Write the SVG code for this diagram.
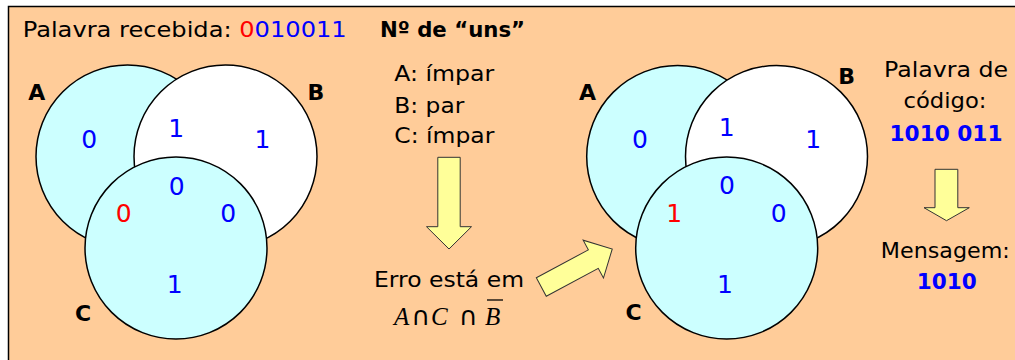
<svg xmlns="http://www.w3.org/2000/svg" width="1015" height="360" viewBox="0 0 1015 360">
<style>
  .t { font-family: "DejaVu Sans", Verdana, sans-serif; font-size: 22px; fill: #000; }
  .title { font-size: 21px; }
  .b { font-weight: bold; }
  .blue { fill: #0000FF; }
  .lbl { font-family: "DejaVu Sans", Verdana, sans-serif; font-size: 22px; font-weight: bold; text-anchor: middle; fill: #000; }
  .dig { font-family: "DejaVu Sans", Verdana, sans-serif; font-size: 25px; text-anchor: middle; fill: #0000FF; }
  .red, .dig.red { fill: #FF0000; }
  .cy { fill: #CCFFFF; stroke: #000; stroke-width: 1.5; }
  .wh { fill: #FFFFFF; stroke: #000; stroke-width: 1.5; }
  .arrow { fill: #FFFF99; stroke: #333; stroke-width: 1; }
  .mi { font-family: "Liberation Serif", "Times New Roman", serif; font-style: italic; font-size: 25px; fill: #000; }
  .op { font-family: "DejaVu Sans", "Liberation Serif", sans-serif; font-style: normal; font-size: 26px; text-anchor: middle; }
</style>
<rect x="8.5" y="6.5" width="1020" height="360" fill="#FFCC99" stroke="#000" stroke-width="1.5"/>

<g id="title">
  <text class="t title" x="22.7" y="37.3" textLength="324" lengthAdjust="spacingAndGlyphs">Palavra recebida: <tspan class="red">0</tspan><tspan class="blue">010011</tspan></text>
</g>
<g id="heading-uns">
  <text class="t title b" x="380" y="37.3" textLength="145" lengthAdjust="spacingAndGlyphs">Nº de “uns”</text>
</g>

<g id="venn-received">
  <g id="r-A">
    <circle class="cy" cx="127.5" cy="156.5" r="91.5"/>
    <text class="lbl" x="36.8" y="100">A</text>
  </g>
  <g id="r-B">
    <circle class="wh" cx="225.5" cy="156.5" r="91.5"/>
    <text class="lbl" x="315.8" y="100">B</text>
  </g>
  <g id="r-C">
    <circle class="cy" cx="176" cy="248" r="91"/>
    <text class="lbl" x="83" y="320.5">C</text>
  </g>
  <g id="r-bits">
    <text class="dig" x="89.2" y="148.3">0</text>
    <text class="dig" x="176.3" y="136.7">1</text>
    <text class="dig" x="262.5" y="148.3">1</text>
    <text class="dig" x="176.7" y="195">0</text>
    <text class="dig red" x="123.7" y="222.3">0</text>
    <text class="dig" x="228.3" y="222.3">0</text>
    <text class="dig" x="174.7" y="292.7">1</text>
  </g>
</g>

<g id="parity">
  <text class="t" x="394.3" y="80.7" textLength="100" lengthAdjust="spacingAndGlyphs">A: ímpar</text>
  <text class="t" x="394.3" y="112.7" textLength="70" lengthAdjust="spacingAndGlyphs">B: par</text>
  <text class="t" x="394.3" y="143.3" textLength="100" lengthAdjust="spacingAndGlyphs">C: ímpar</text>
</g>

<g id="error-location">
  <text class="t" x="374" y="287.3" textLength="150" lengthAdjust="spacingAndGlyphs">Erro está em</text>
  <text class="mi" x="394" y="324.5">A</text>
  <text class="mi op" x="421" y="324.5">∩</text>
  <text class="mi" x="431" y="324.5">C</text>
  <text class="mi op" x="468.5" y="324.5">∩</text>
  <text class="mi" x="485" y="324.5">B</text>
  <line x1="487" y1="300" x2="503" y2="300" stroke="#000" stroke-width="1.3"/>
</g>

<g id="venn-corrected">
  <g id="c-A">
    <circle class="cy" cx="677.7" cy="156.5" r="91"/>
    <text class="lbl" x="587.5" y="100">A</text>
  </g>
  <g id="c-B">
    <circle class="wh" cx="776.5" cy="156.5" r="91"/>
    <text class="lbl" x="846.7" y="84.3">B</text>
  </g>
  <g id="c-C">
    <circle class="cy" cx="726.7" cy="248" r="91"/>
    <text class="lbl" x="633.7" y="320">C</text>
  </g>
  <g id="c-bits">
    <text class="dig" x="640" y="147.7">0</text>
    <text class="dig" x="726.7" y="135.7">1</text>
    <text class="dig" x="813.3" y="147.7">1</text>
    <text class="dig" x="727" y="194.3">0</text>
    <text class="dig red" x="674.3" y="221.7">1</text>
    <text class="dig" x="778.7" y="221.7">0</text>
    <text class="dig" x="725" y="292.7">1</text>
  </g>
</g>

<g id="codeword">
  <text class="t" x="946" y="76.7" text-anchor="middle" textLength="124" lengthAdjust="spacingAndGlyphs">Palavra de</text>
  <text class="t" x="945" y="108.3" text-anchor="middle" textLength="83" lengthAdjust="spacingAndGlyphs">código:</text>
  <text class="t b blue" x="946" y="141" text-anchor="middle" textLength="113" lengthAdjust="spacingAndGlyphs">1010 011</text>
</g>

<g id="message">
  <text class="t" x="945.3" y="258.3" text-anchor="middle" textLength="129" lengthAdjust="spacingAndGlyphs">Mensagem:</text>
  <text class="t b blue" x="946.7" y="289.3" text-anchor="middle" textLength="60" lengthAdjust="spacingAndGlyphs">1010</text>
</g>

<g id="connectors">
  <polygon class="arrow" points="437.8,157.3 460.2,157.3 460.2,226.7 471.5,226.7 449,249 426.5,226.7 437.8,226.7"/>
  <polygon class="arrow" transform="translate(541.3,287) rotate(-28.2)" points="0,-10.5 59,-10.5 59,-21.5 80.5,0 59,21.5 59,10.5 0,10.5"/>
  <polygon class="arrow" points="935,169.3 957.8,169.3 957.8,207.7 969.3,207.7 946.5,220.7 924,207.7 935,207.7"/>
</g>
</svg>
